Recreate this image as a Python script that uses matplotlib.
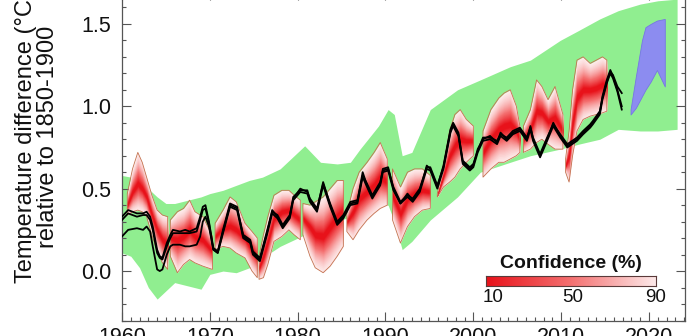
import matplotlib
matplotlib.use("Agg")
import matplotlib.pyplot as plt
import numpy as np
from matplotlib.colors import LinearSegmentedColormap
from matplotlib.ticker import MultipleLocator, FormatStrFormatter
from statistics import NormalDist

plt.rcParams['font.family'] = ['Liberation Sans', 'DejaVu Sans']

# ---------------- data ----------------
green_years = [1960.0, 1961.0, 1962.0, 1963.0, 1964.0, 1965.0, 1966.0, 1967.5, 1969.0, 1970.0,
               1971.5, 1973.0, 1974.5, 1976.0, 1978.0, 1980.0, 1980.8, 1982.6, 1984.5, 1986.0,
               1987.1, 1989.2, 1990.3, 1991.0, 1991.9, 1993.0, 1995.1, 1998.2, 2000.8, 2004.2,
               2006.5, 2009.9, 2012.0, 2014.4, 2016.5, 2019.0, 2021.0, 2023.2]
green_upper = [0.58, 0.57, 0.55, 0.50, 0.45, 0.41, 0.41, 0.43, 0.45, 0.47,
               0.49, 0.52, 0.55, 0.57, 0.62, 0.72, 0.76, 0.66, 0.65, 0.66,
               0.74, 0.88, 0.98, 0.95, 0.70, 0.72, 0.98, 1.10, 1.16, 1.24,
               1.28, 1.40, 1.46, 1.53, 1.58, 1.62, 1.64, 1.65]
green_lower = [0.11, 0.09, 0.02, -0.10, -0.17, -0.12, -0.07, -0.09, -0.11, -0.02,
               0.00, -0.01, 0.02, 0.08, 0.15, 0.20, 0.22, 0.25, 0.30, 0.33,
               0.35, 0.39, 0.40, 0.30, 0.13, 0.18, 0.31, 0.45, 0.60, 0.66,
               0.70, 0.74, 0.77, 0.80, 0.86, 0.85, 0.85, 0.86]

blue_years = [2017.9, 2018.5, 2019.2, 2019.6, 2020.2, 2020.9, 2021.8]
blue_upper = [0.98, 1.18, 1.40, 1.48, 1.50, 1.52, 1.53]
blue_lower = [0.95, 0.99, 1.06, 1.10, 1.15, 1.22, 1.12]

band_years = [
    [1960.6, 1961.2, 1961.8, 1962.3, 1962.8, 1963.4, 1964.0, 1964.6, 1965.2],
    [1965.5, 1966.3, 1967.0, 1967.7, 1968.3, 1969.2, 1970.3],
    [1970.6, 1971.5, 1972.3, 1973.0, 1974.0, 1974.8, 1975.4],
    [1975.6, 1976.1, 1976.6, 1977.3, 1978.2, 1979.0, 1979.6, 1980.3],
    [1980.6, 1981.4, 1982.0, 1982.9, 1983.7, 1984.5, 1985.2],
    [1985.6, 1986.3, 1987.0, 1987.9, 1988.7, 1989.4, 1990.2],
    [1990.8, 1991.7, 1992.5, 1993.3, 1994.2, 1995.1],
    [1995.9, 1996.6, 1997.3, 1997.9, 1998.5, 1999.2, 2000.0],
    [2001.1, 2002.0, 2002.9, 2003.5, 2004.2, 2004.9, 2005.3],
    [2005.7, 2006.5, 2007.2, 2007.8, 2008.5, 2009.3, 2010.2],
    [2010.5, 2010.9, 2011.3, 2011.8, 2012.5, 2013.3, 2014.0, 2014.7, 2015.2],
]
band_low = [
    [0.34, 0.36, 0.37, 0.36, 0.33, 0.22, 0.12, 0.05, 0.01],
    [0.09, -0.01, 0.04, 0.07, 0.05, 0.03, 0.01],
    [0.13, 0.15, 0.14, 0.11, 0.08, 0.00, -0.04],
    [-0.05, -0.04, 0.04, 0.18, 0.21, 0.25, 0.22, 0.19],
    [0.22, 0.09, 0.02, -0.01, 0.03, 0.09, 0.15],
    [0.24, 0.19, 0.25, 0.31, 0.35, 0.38, 0.40],
    [0.31, 0.17, 0.27, 0.33, 0.37, 0.38],
    [0.45, 0.51, 0.54, 0.57, 0.62, 0.66, 0.70],
    [0.57, 0.62, 0.66, 0.66, 0.68, 0.70, 0.72],
    [0.72, 0.74, 0.78, 0.80, 0.77, 0.74, 0.74],
    [0.60, 0.54, 0.70, 0.85, 0.92, 0.94, 0.95, 0.96, 0.97],
]
band_mid = [
    [0.40, 0.48, 0.53, 0.50, 0.45, 0.34, 0.25, 0.19, 0.16],
    [0.20, 0.19, 0.21, 0.25, 0.21, 0.19, 0.12],
    [0.21, 0.26, 0.27, 0.25, 0.20, 0.13, 0.08],
    [0.02, 0.09, 0.18, 0.32, 0.36, 0.37, 0.34, 0.31],
    [0.32, 0.27, 0.22, 0.21, 0.27, 0.33, 0.37],
    [0.30, 0.36, 0.44, 0.48, 0.52, 0.57, 0.54],
    [0.46, 0.35, 0.44, 0.47, 0.49, 0.48],
    [0.46, 0.58, 0.70, 0.76, 0.80, 0.79, 0.79],
    [0.72, 0.80, 0.86, 0.88, 0.89, 0.85, 0.80],
    [0.80, 0.86, 0.97, 0.96, 0.91, 0.93, 0.85],
    [0.64, 0.70, 0.90, 1.05, 1.10, 1.10, 1.11, 1.13, 1.12],
]
band_high = [
    [0.47, 0.62, 0.72, 0.66, 0.57, 0.46, 0.37, 0.34, 0.33],
    [0.31, 0.36, 0.38, 0.43, 0.36, 0.33, 0.21],
    [0.29, 0.37, 0.45, 0.42, 0.29, 0.24, 0.20],
    [0.09, 0.22, 0.33, 0.46, 0.49, 0.49, 0.46, 0.43],
    [0.41, 0.40, 0.42, 0.45, 0.50, 0.55, 0.55],
    [0.35, 0.50, 0.60, 0.66, 0.72, 0.78, 0.68],
    [0.62, 0.51, 0.60, 0.62, 0.62, 0.58],
    [0.47, 0.64, 0.85, 0.95, 0.98, 0.92, 0.88],
    [0.85, 0.98, 1.05, 1.08, 1.10, 1.00, 0.88],
    [0.88, 0.98, 1.16, 1.12, 1.04, 1.12, 0.95],
    [0.68, 0.85, 1.10, 1.28, 1.30, 1.26, 1.28, 1.30, 1.28],
]

obs_years = [1960.0, 1960.7, 1961.7, 1962.4, 1962.8, 1963.2, 1963.5, 1964.0, 1964.3, 1964.6,
             1965.1, 1965.5, 1965.8, 1966.6, 1967.2, 1967.7, 1968.5, 1968.9, 1969.2, 1969.5,
             1969.9, 1970.4, 1970.9, 1971.5, 1972.3, 1973.1, 1973.8, 1974.6, 1974.9, 1975.7,
             1976.5, 1977.1, 1977.7, 1978.3, 1979.1, 1979.5, 1980.3, 1981.1, 1981.4, 1982.2,
             1982.9, 1983.7, 1984.5, 1985.2, 1986.0, 1986.8, 1987.4, 1987.9, 1988.5, 1989.4,
             1989.7, 1990.3, 1990.9, 1991.7, 1992.5, 1993.1, 1993.9, 1994.7, 1995.1, 1995.9,
             1996.6, 1997.4, 1997.7, 1998.3, 1998.8, 1999.6, 2000.0, 2000.5, 2001.1, 2001.9,
             2002.7, 2003.1, 2003.8, 2004.5, 2005.3, 2006.1, 2006.5, 2006.8, 2007.6, 2008.4,
             2009.1, 2009.9, 2010.7, 2011.8, 2012.5, 2013.3, 2013.6, 2014.4, 2014.7, 2015.2,
             2015.6, 2015.9, 2016.4, 2016.9]
obs_a = [0.33, 0.37, 0.35, 0.35, 0.36, 0.33, 0.27, 0.13, 0.09, 0.08,
         0.17, 0.22, 0.25, 0.24, 0.25, 0.24, 0.26, 0.33, 0.39, 0.40,
         0.30, 0.14, 0.12, 0.25, 0.41, 0.39, 0.21, 0.18, 0.11, 0.07,
         0.23, 0.37, 0.33, 0.27, 0.33, 0.45, 0.49, 0.49, 0.43, 0.37,
         0.54, 0.40, 0.29, 0.33, 0.41, 0.42, 0.60, 0.52, 0.45, 0.53,
         0.62, 0.63, 0.50, 0.41, 0.47, 0.43, 0.49, 0.64, 0.62, 0.51,
         0.64, 0.86, 0.90, 0.84, 0.66, 0.62, 0.64, 0.74, 0.80, 0.82,
         0.78, 0.84, 0.80, 0.84, 0.86, 0.80, 0.88, 0.80, 0.70, 0.80,
         0.90, 0.82, 0.76, 0.80, 0.84, 0.88, 0.90, 0.96, 1.06, 1.16,
         1.22, 1.18, 1.10, 1.00]
obs_b = [0.31, 0.35, 0.33, 0.34, 0.34, 0.31, 0.25, 0.11, 0.08, 0.07,
         0.15, 0.20, 0.23, 0.23, 0.23, 0.23, 0.24, 0.31, 0.37, 0.38,
         0.29, 0.13, 0.11, 0.23, 0.39, 0.37, 0.20, 0.17, 0.10, 0.06,
         0.22, 0.35, 0.32, 0.26, 0.32, 0.43, 0.48, 0.47, 0.42, 0.36,
         0.52, 0.39, 0.28, 0.32, 0.40, 0.41, 0.57, 0.51, 0.44, 0.52,
         0.60, 0.61, 0.49, 0.41, 0.45, 0.42, 0.48, 0.62, 0.61, 0.50,
         0.62, 0.84, 0.88, 0.82, 0.65, 0.61, 0.63, 0.72, 0.79, 0.80,
         0.77, 0.82, 0.79, 0.83, 0.85, 0.79, 0.86, 0.79, 0.69, 0.79,
         0.88, 0.81, 0.75, 0.79, 0.83, 0.87, 0.89, 0.95, 1.04, 1.14,
         1.20, 1.17, 1.09, 0.98]
obs_c = [0.21, 0.25, 0.26, 0.25, 0.27, 0.24, 0.15, 0.01, 0.00, 0.01,
         0.10, 0.15, 0.16, 0.16, 0.15, 0.15, 0.16, 0.21, 0.30, 0.33,
         0.27, 0.13, 0.11, 0.24, 0.40, 0.38, 0.22, 0.19, 0.12, 0.08,
         0.24, 0.36, 0.34, 0.28, 0.34, 0.44, 0.50, 0.48, 0.44, 0.38,
         0.53, 0.41, 0.30, 0.34, 0.42, 0.43, 0.58, 0.53, 0.46, 0.54,
         0.61, 0.62, 0.51, 0.42, 0.46, 0.44, 0.50, 0.63, 0.63, 0.52,
         0.63, 0.85, 0.89, 0.83, 0.67, 0.63, 0.65, 0.73, 0.81, 0.81,
         0.79, 0.83, 0.81, 0.85, 0.87, 0.81, 0.87, 0.81, 0.71, 0.81,
         0.89, 0.83, 0.77, 0.81, 0.85, 0.89, 0.91, 0.97, 1.05, 1.15,
         1.21, 1.19, 1.12, 1.08]

conf_ticks = [10, 50, 90]
x_ticks = [1960, 1970, 1980, 1990, 2000, 2010, 2020]
y_ticks = [0.0, 0.5, 1.0, 1.5]

# ---------------- figure ----------------
W, H = 700, 336
fig = plt.figure(figsize=(W / 100, H / 100), dpi=100)
ax_bottom_px, ax_top_px = 320.5, -9.1
ax = fig.add_axes([122 / W, (H - ax_bottom_px) / H, (685 - 122) / W,
                   (ax_bottom_px - ax_top_px) / H])
ax.set_xlim(1960, 2024.1)
ax.set_ylim(-0.3, 1.7)

ax.fill_between(green_years, green_lower, green_upper, color='#90ee90', lw=0, zorder=1)
ax.fill_between(blue_years, blue_lower, blue_upper, facecolor='#8c8cf0',
                edgecolor='#7676e4', lw=0.6, zorder=2)

cmap = LinearSegmentedColormap.from_list('conf', ['#e8121a', '#f47070', '#fde9e9'])
nd = NormalDist()
zmax = nd.inv_cdf(0.95)
levels = np.linspace(90, 10, 33)
for yrs, lo, mid, hi in zip(band_years, band_low, band_mid, band_high):
    yrs = np.asarray(yrs); lo = np.asarray(lo); mid = np.asarray(mid); hi = np.asarray(hi)
    for p in levels:
        s = nd.inv_cdf(0.5 + p / 200.0) / zmax
        ax.fill_between(yrs, mid - s * (mid - lo), mid + s * (hi - mid),
                        color=cmap((p - 10) / 80.0), lw=0, zorder=3)
    ax.fill_between(yrs, lo, hi, facecolor='none', edgecolor='#c4714f', lw=0.6, zorder=4)

for obs in (obs_a, obs_b, obs_c):
    ax.plot(obs_years, obs, color='black', lw=1.3, zorder=5)

ax.set_xticks(x_ticks)
ax.set_yticks(y_ticks)
ax.yaxis.set_major_formatter(FormatStrFormatter('%.1f'))
ax.xaxis.set_minor_locator(MultipleLocator(1))
ax.yaxis.set_minor_locator(MultipleLocator(0.1))
ax.tick_params(which='both', direction='in', top=True, right=True, colors='#555555',
               labelcolor='#111111', labelsize=15.5, width=0.8)
ax.tick_params(which='major', length=6.5)
ax.tick_params(which='minor', length=3.2)
ax.tick_params(axis='y', pad=8)
ax.tick_params(axis='x', pad=5)
for sp in ax.spines.values():
    sp.set_color('#555555')
    sp.set_linewidth(0.9)

fig.text(37 / W, 1 - 137 / H, "Temperature difference (°C)\nrelative to 1850-1900",
         rotation=90, ha='center', va='center', fontsize=17, linespacing=0.95,
         multialignment='center', color='#111111')

# colour-bar legend
cax = fig.add_axes([486 / W, (H - 286) / H, 170 / W, 10.5 / H])
cax.imshow(np.linspace(10, 90, 256)[None, :], cmap=cmap, aspect='auto',
           extent=[10, 90, 0, 1])
cax.set_xticks([]); cax.set_yticks([])
for sp in cax.spines.values():
    sp.set_color('#5a3a3a')
    sp.set_linewidth(0.8)
fig.text(571 / W, 1 - 263 / H, 'Confidence (%)', ha='center', va='center',
         fontsize=14, fontweight='bold', color='#111111')
for val, xpx in zip(conf_ticks, [493, 573, 656]):
    fig.text(xpx / W, 1 - 297 / H, str(val), ha='center', va='center', fontsize=13.5,
             color='#111111')

fig.savefig('out.png', dpi=100)
